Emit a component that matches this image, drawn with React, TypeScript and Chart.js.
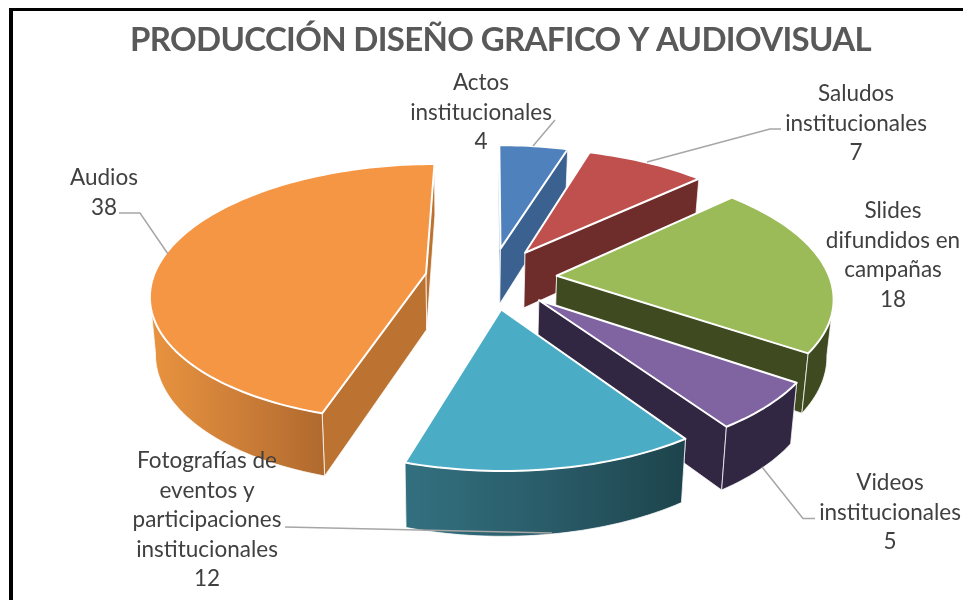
import React, { useEffect, useRef } from "react";
import { Chart, registerables } from "chart.js";

Chart.register(...registerables);

const TITLE = "PRODUCCIÓN DISEÑO GRAFICO Y AUDIOVISUAL";
const categories = [
  "Actos institucionales",
  "Saludos institucionales",
  "Slides difundidos en campañas",
  "Videos institucionales",
  "Fotografías de eventos y participaciones institucionales",
  "Audios",
];
const values = [4, 7, 18, 5, 12, 38];
const topColors = ["#4F81BD", "#C0504D", "#9BBB59", "#8064A2", "#4BACC6", "#F59645"];
const wallColors = ["#3A6190", "#6E2C2A", "#3F4A20", "#322742", "#1D444C", "#BC7231"];
const outerWallStops: (string[] | null)[] = [null, null, null, null, ["#33707F", "#2A5C69", "#1D444C"], ["#E8933F", "#CE7F38", "#B06A2E"]];

// Wrapped label lines and layout of each label
const labelLines = [
  ["Actos", "institucionales"],
  ["Saludos", "institucionales"],
  ["Slides", "difundidos en", "campañas"],
  ["Videos", "institucionales"],
  ["Fotografías de", "eventos y", "participaciones", "institucionales"],
  ["Audios"],
];
const labelLayout = [
  { x: 481, y: 83 },
  { x: 856, y: 94 },
  { x: 893, y: 211 },
  { x: 890, y: 483 },
  { x: 207, y: 461 },
  { x: 104, y: 178 },
];
const leaders = [
  [[555, 120], [533, 146]],
  [[781, 129], [770, 129], [647, 162]],
  [],
  [[815, 518.5], [803, 518.5], [762, 467]],
  [[285, 527], [552, 533]],
  [[119, 213], [140, 213], [168, 254]],
];

// Perspective of the tilted disc
const VIEW = { cx: 491, cy: 278, fx: 273, fy: 127, persp: 0.149, explode: 66, silhouette: 0.15 };

type Pt = [number, number];
const project = (X: number, Y: number): Pt => {
  const w = 1 - VIEW.persp * Y;
  return [VIEW.cx + (VIEW.fx * X) / w, VIEW.cy + (VIEW.fy * Y) / w];
};
const drop = (p: Pt): Pt => [p[0] - (p[0] - 460) * 0.018, p[1] + 56 + (p[1] - 273) * 0.047];

const polygon = (ctx: CanvasRenderingContext2D, pts: Pt[]) => {
  ctx.beginPath();
  pts.forEach((p, i) => (i ? ctx.lineTo(p[0], p[1]) : ctx.moveTo(p[0], p[1])));
  ctx.closePath();
};

const pie3d = {
  id: "pie3d",
  beforeDraw(chart: any) {
    (chart.ctx as any).letterSpacing = "-0.67px";
  },
  beforeDatasetsDraw(chart: any) {
    const ctx: CanvasRenderingContext2D = chart.ctx;
    (ctx as any).letterSpacing = "0px";
    const arcs = chart.getDatasetMeta(0).data;
    arcs.forEach((arc: any, i: number) => {
      const a0 = arc.startAngle;
      const a1 = arc.endAngle;
      const mid = (a0 + a1) / 2;
      const off = (arc.options.offset ?? 0) / VIEW.fx;
      const ox = Math.cos(mid) * off;
      const oy = Math.sin(mid) * off;
      const tip = project(ox, oy);
      const steps = Math.max(4, Math.ceil((a1 - a0) / 0.025));
      const rim: Pt[] = [];
      const front: Pt[] = [];
      for (let s = 0; s <= steps; s++) {
        const a = a0 + ((a1 - a0) * s) / steps;
        const p = project(ox + Math.cos(a), oy + Math.sin(a));
        rim.push(p);
        if (Math.sin(a) >= VIEW.silhouette) front.push(p);
      }
      const first = rim[0];
      const last = rim[rim.length - 1];
      ctx.save();
      ctx.lineJoin = "round";
      // radial walls
      ctx.strokeStyle = "rgba(255,255,255,0.75)";
      ctx.lineWidth = 1;
      ctx.fillStyle = wallColors[i];
      polygon(ctx, [tip, first, drop(first), drop(tip)]);
      ctx.fill();
      ctx.stroke();
      polygon(ctx, [tip, last, drop(last), drop(tip)]);
      ctx.fill();
      ctx.stroke();
      // outer wall: only the part that faces the viewer
      if (front.length > 1) {
        const stops = outerWallStops[i];
        if (stops) {
          const xs = front.map((p) => p[0]);
          const g = ctx.createLinearGradient(Math.min(...xs), 0, Math.max(...xs), 0);
          stops.forEach((c, k) => g.addColorStop(k / (stops.length - 1), c));
          ctx.fillStyle = g;
        }
        polygon(ctx, [...front, ...front.map(drop).reverse()]);
        ctx.fill();
        ctx.stroke();
      }
      // top face
      ctx.fillStyle = arc.options.backgroundColor;
      ctx.strokeStyle = "#FFFFFF";
      ctx.lineWidth = 2;
      polygon(ctx, [tip, ...rim]);
      ctx.fill();
      ctx.stroke();
      ctx.restore();
    });
    // leader lines
    ctx.save();
    ctx.strokeStyle = "#A6A6A6";
    ctx.lineWidth = 1.5;
    leaders.forEach((line) => {
      if (!line.length) return;
      ctx.beginPath();
      line.forEach((p, k) => (k ? ctx.lineTo(p[0], p[1]) : ctx.moveTo(p[0], p[1])));
      ctx.stroke();
    });
    // labels
    ctx.fillStyle = "#404040";
    ctx.font = '22.5px Lato, "Open Sans", sans-serif';
    ctx.textAlign = "center";
    ctx.textBaseline = "middle";
    labelLines.forEach((lines, i) => {
      const { x, y } = labelLayout[i];
      [...lines, String(values[i])].forEach((t, k) => ctx.fillText(t, x, y + k * 29.5));
    });
    ctx.restore();
    return false;
  },
  afterDraw(chart: any) {
    const ctx: CanvasRenderingContext2D = chart.ctx;
    ctx.save();
    ctx.fillStyle = "#000000";
    ctx.fillRect(9, 8, 954, 3);
    ctx.fillRect(9, 8, 4, 592);
    ctx.restore();
  },
};

export default function App() {
  const ref = useRef<HTMLCanvasElement>(null);
  useEffect(() => {
    const chart = new Chart(ref.current as HTMLCanvasElement, {
      type: "pie",
      data: {
        labels: categories,
        datasets: [{ data: values, backgroundColor: topColors, offset: VIEW.explode, borderColor: "#FFFFFF" }],
      },
      options: {
        responsive: false,
        animation: false,
        rotation: 0,
        layout: { padding: { left: 38, top: 13 } },
        plugins: {
          legend: { display: false },
          tooltip: { enabled: false },
          title: {
            display: true,
            text: TITLE,
            color: "#595959",
            font: { family: 'Lato, "Open Sans", sans-serif', size: 33, weight: "bold" },
            padding: { top: 8, bottom: 4 },
          },
        },
      },
      plugins: [pie3d],
    } as any);
    return () => chart.destroy();
  }, []);
  return (
    <div style={{ position: "fixed", left: 0, top: 0, width: 963, height: 600, background: "#fff" }}>
      <canvas ref={ref} width={963} height={600} style={{ display: "block" }} />
    </div>
  );
}
